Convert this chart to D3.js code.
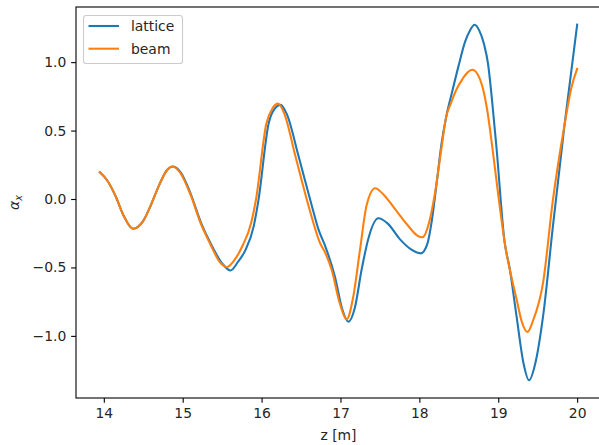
<!DOCTYPE html>
<html>
<head>
<meta charset="utf-8">
<script src="https://cdn.jsdelivr.net/npm/d3@7"></script>
<style>
  html, body { margin: 0; padding: 0; background: #fff; }
  svg { display: block; }
  text { font-family: "DejaVu Sans", sans-serif; fill: #262626; }
</style>
</head>
<body>
<svg id="chart" width="599" height="445"></svg>
<script>
// Twiss alpha along the lattice section (z in metres)
const latticeZ = [13.95, 14.05, 14.15, 14.25, 14.37, 14.5, 14.6, 14.7, 14.8, 14.88, 14.98, 15.1, 15.23, 15.35, 15.5, 15.605, 15.7, 15.795, 15.9, 15.96, 16.09, 16.16, 16.24, 16.32, 16.47, 16.64, 16.72, 16.81, 16.93, 17.02, 17.1, 17.18, 17.27, 17.354, 17.48, 17.6, 17.755, 17.9, 18.02, 18.1, 18.16, 18.22, 18.28, 18.34, 18.41, 18.5, 18.58, 18.64, 18.7, 18.76, 18.82, 18.87, 18.92, 18.98, 19.08, 19.145, 19.23, 19.32, 19.39, 19.47, 19.57, 19.69, 19.84, 20.0];
const latticeAlpha = [0.195, 0.13, 0.02, -0.12, -0.217, -0.16, -0.04, 0.10, 0.21, 0.237, 0.19, 0.04, -0.17, -0.32, -0.47, -0.522, -0.46, -0.373, -0.2, -0.01, 0.554, 0.655, 0.688, 0.62, 0.31, -0.056, -0.22, -0.349, -0.568, -0.80, -0.897, -0.80, -0.51, -0.288, -0.141, -0.18, -0.295, -0.37, -0.397, -0.33, -0.15, 0.12, 0.40, 0.60, 0.77, 0.98, 1.15, 1.23, 1.273, 1.23, 1.13, 0.99, 0.73, 0.36, -0.312, -0.507, -0.849, -1.20, -1.324, -1.20, -0.849, -0.215, 0.541, 1.273];

const beamZ = [13.95, 14.05, 14.15, 14.25, 14.37, 14.5, 14.6, 14.7, 14.8, 14.87, 14.97, 15.1, 15.23, 15.35, 15.47, 15.56, 15.65, 15.76, 15.87, 15.93, 16.06, 16.14, 16.21, 16.29, 16.43, 16.6, 16.743, 16.81, 16.89, 16.99, 17.08, 17.16, 17.25, 17.33, 17.44, 17.55, 17.7, 17.85, 17.97, 18.04, 18.12, 18.2, 18.28, 18.34, 18.4, 18.47, 18.55, 18.61, 18.67, 18.74, 18.8, 18.86, 18.92, 19.0, 19.08, 19.23, 19.3, 19.37, 19.44, 19.57, 19.69, 19.84, 19.93, 20.0];
const beamAlpha = [0.195, 0.13, 0.02, -0.12, -0.217, -0.16, -0.04, 0.10, 0.21, 0.237, 0.19, 0.03, -0.18, -0.33, -0.46, -0.497, -0.45, -0.34, -0.17, 0.0, 0.55, 0.665, 0.698, 0.62, 0.31, -0.06, -0.324, -0.397, -0.52, -0.76, -0.878, -0.72, -0.36, -0.05, 0.078, 0.03, -0.08, -0.19, -0.265, -0.28, -0.18, 0.05, 0.371, 0.60, 0.70, 0.80, 0.88, 0.925, 0.944, 0.91, 0.82, 0.65, 0.40, 0.03, -0.312, -0.726, -0.90, -0.971, -0.89, -0.605, -0.02, 0.541, 0.82, 0.951];

const xTicks = [14, 15, 16, 17, 18, 19, 20];
const yTicks = [-1.0, -0.5, 0.0, 0.5, 1.0];
const seriesNames = ["lattice", "beam"];
const seriesColors = ["#1f77b4", "#ff7f0e"];

const FONT = 13.9;
const svg = d3.select("#chart");
const plot = { left: 76, right: 601, top: 7, bottom: 398 };

// axis limits padded by 5% of the data range
const allZ = latticeZ.concat(beamZ);
const allA = latticeAlpha.concat(beamAlpha);
const [zMin, zMax] = d3.extent(allZ);
const [aMin, aMax] = d3.extent(allA);
const zPad = (zMax - zMin) * 0.05, aPad = (aMax - aMin) * 0.05;

const x = d3.scaleLinear().domain([zMin - zPad, zMax + zPad]).range([plot.left, plot.right]);
const y = d3.scaleLinear().domain([aMin - aPad, aMax + aPad]).range([plot.bottom, plot.top]);

const fmt = v => d3.format(".1f")(v).replace("-", "\u2212");

// clip lines to the axes area
svg.append("defs").append("clipPath").attr("id", "clip")
  .append("rect").attr("x", plot.left).attr("y", plot.top)
  .attr("width", plot.right - plot.left).attr("height", plot.bottom - plot.top);

const line = d3.line().curve(d3.curveMonotoneX)
  .x(d => x(d[0])).y(d => y(d[1]));

const series = [
  d3.zip(latticeZ, latticeAlpha),
  d3.zip(beamZ, beamAlpha)
];

const g = svg.append("g").attr("clip-path", "url(#clip)");
series.forEach((pts, i) => {
  g.append("path").datum(pts)
    .attr("d", line)
    .attr("fill", "none")
    .attr("stroke", seriesColors[i])
    .attr("stroke-width", 2.08)
    .attr("stroke-linejoin", "round")
    .attr("stroke-linecap", "square");
});

// axes
const xAxis = d3.axisBottom(x).tickValues(xTicks).tickFormat(d3.format("d"))
  .tickSizeInner(4.86).tickSizeOuter(0).tickPadding(4.86);
const yAxis = d3.axisLeft(y).tickValues(yTicks).tickFormat(fmt)
  .tickSizeInner(4.86).tickSizeOuter(0).tickPadding(4.86);

const gx = svg.append("g").attr("transform", `translate(0,${plot.bottom})`).call(xAxis);
const gy = svg.append("g").attr("transform", `translate(${plot.left},0)`).call(yAxis);
[gx, gy].forEach(a => {
  a.select(".domain").remove();
  a.selectAll(".tick line").attr("stroke", "#000").attr("stroke-width", 1.1);
  a.selectAll(".tick text").attr("font-size", FONT).attr("fill", "#262626")
    .style("font-family", "'DejaVu Sans', sans-serif");
});

// spines
svg.append("rect")
  .attr("x", plot.left).attr("y", plot.top)
  .attr("width", plot.right - plot.left).attr("height", plot.bottom - plot.top)
  .attr("fill", "none").attr("stroke", "#000").attr("stroke-width", 1.1);

// axis labels
svg.append("text")
  .attr("x", 338.5).attr("y", 440)
  .attr("text-anchor", "middle").attr("font-size", FONT)
  .text("z [m]");

const yl = svg.append("text")
  .attr("transform", `translate(19,${(plot.top + plot.bottom) / 2}) rotate(-90)`)
  .attr("text-anchor", "middle").attr("font-size", FONT);
yl.append("tspan").style("font-style", "italic").text("\u03B1");
yl.append("tspan").attr("font-size", 9.7).attr("dy", 2.8).style("font-style", "italic").text("x");

// legend
const leg = svg.append("g").attr("transform", "translate(83,15)");
leg.append("rect").attr("x", 0.5).attr("y", 0.5).attr("width", 99).attr("height", 48)
  .attr("rx", 2.8).attr("fill", "#fff").attr("fill-opacity", 0.8)
  .attr("stroke", "#cccccc").attr("stroke-width", 1.1);
seriesNames.forEach((name, i) => {
  const cy = 11 + i * 22.7;
  leg.append("line").attr("x1", 5.5).attr("x2", 36).attr("y1", cy).attr("y2", cy)
    .attr("stroke", seriesColors[i]).attr("stroke-width", 2.08);
  leg.append("text").attr("x", 48).attr("y", cy + 5.2).attr("font-size", FONT).text(name);
});
</script>
</body>
</html>
